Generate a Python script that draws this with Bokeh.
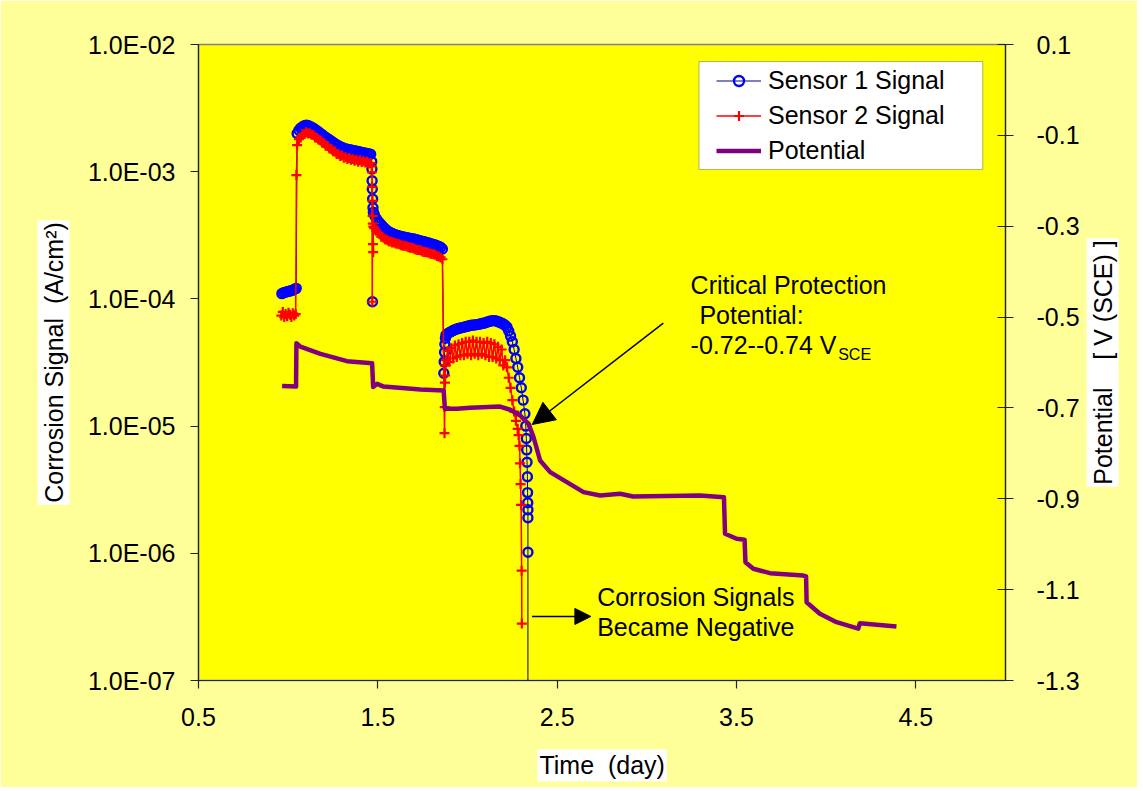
from math import pi
from bokeh.plotting import figure
from bokeh.models import (Range1d, LinearAxis, LinearScale, FixedTicker, CustomJSTickFormatter,
                          Label, Arrow, NormalHead, Legend, LegendItem, BoxAnnotation)
from bokeh.embed import file_html
from bokeh.resources import INLINE

# ---------------- data ----------------
x_ticks = [0.5, 1.5, 2.5, 3.5, 4.5]
signal_ticks = [1e-7, 1e-6, 1e-5, 1e-4, 1e-3, 1e-2]
potential_ticks = [0.1, -0.1, -0.3, -0.5, -0.7, -0.9, -1.1, -1.3]

# Sensor 1 (A/cm2)
s1_time_a = [0.965, 0.975, 0.985, 0.995, 1.005, 1.015, 1.025, 1.035, 1.045]
s1_sig_a = [1.10e-4, 1.12e-4, 1.13e-4, 1.14e-4, 1.15e-4, 1.16e-4, 1.17e-4, 1.19e-4, 1.21e-4]
s1_time_b = [1.05, 1.06, 1.07, 1.08, 1.09, 1.10, 1.11, 1.12, 1.13, 1.14, 1.15, 1.16, 1.17, 1.18,
             1.19, 1.20, 1.21, 1.22, 1.23, 1.24, 1.25, 1.26, 1.27, 1.28, 1.29, 1.30, 1.31, 1.32,
             1.33, 1.34, 1.35, 1.36, 1.37, 1.38, 1.39, 1.40, 1.41, 1.42, 1.43, 1.44, 1.45, 1.46]
s1_sig_b = [2.00e-3, 2.12e-3, 2.20e-3, 2.26e-3, 2.30e-3, 2.32e-3, 2.31e-3, 2.28e-3, 2.24e-3, 2.20e-3,
            2.15e-3, 2.10e-3, 2.05e-3, 2.00e-3, 1.95e-3, 1.90e-3, 1.86e-3, 1.82e-3, 1.78e-3, 1.74e-3,
            1.70e-3, 1.66e-3, 1.63e-3, 1.60e-3, 1.57e-3, 1.55e-3, 1.53e-3, 1.51e-3, 1.50e-3, 1.49e-3,
            1.48e-3, 1.47e-3, 1.46e-3, 1.45e-3, 1.44e-3, 1.43e-3, 1.42e-3, 1.41e-3, 1.40e-3, 1.39e-3,
            1.38e-3, 1.37e-3]
s1_time_drop1 = [1.466, 1.467, 1.468, 1.469, 1.470, 1.471, 1.473]
s1_sig_drop1 = [1.20e-3, 1.05e-3, 8.5e-4, 7.3e-4, 9.5e-5, 6.1e-4, 5.2e-4]
s1_time_c = [1.475, 1.48, 1.49, 1.50, 1.51, 1.52, 1.53, 1.54, 1.55, 1.56, 1.57, 1.58, 1.59, 1.60,
             1.61, 1.62, 1.63, 1.64, 1.65, 1.66, 1.67, 1.68, 1.69, 1.70, 1.71, 1.72, 1.73, 1.74,
             1.75, 1.76, 1.77, 1.78, 1.79, 1.80, 1.81, 1.82, 1.83, 1.84, 1.85, 1.86]
s1_sig_c = [4.8e-4, 4.6e-4, 4.3e-4, 4.1e-4, 3.95e-4, 3.8e-4, 3.68e-4, 3.56e-4, 3.46e-4, 3.38e-4,
            3.32e-4, 3.27e-4, 3.22e-4, 3.18e-4, 3.15e-4, 3.12e-4, 3.10e-4, 3.07e-4, 3.05e-4, 3.03e-4,
            3.01e-4, 2.99e-4, 2.98e-4, 2.96e-4, 2.93e-4, 2.91e-4, 2.88e-4, 2.86e-4, 2.83e-4, 2.81e-4,
            2.78e-4, 2.76e-4, 2.73e-4, 2.71e-4, 2.68e-4, 2.65e-4, 2.62e-4, 2.59e-4, 2.55e-4, 2.47e-4]
s1_time_d = [1.868, 1.870, 1.872, 1.874, 1.877,
             1.88, 1.89, 1.90, 1.91, 1.92, 1.93, 1.94, 1.95, 1.96, 1.97, 1.98, 1.99, 2.00, 2.01,
             2.02, 2.03, 2.04, 2.05, 2.06, 2.07, 2.08, 2.09, 2.10, 2.11, 2.12, 2.13, 2.14, 2.15,
             2.16, 2.17, 2.18, 2.19, 2.20,
             2.21, 2.22, 2.23, 2.24, 2.25, 2.26, 2.27, 2.28, 2.29, 2.30, 2.31, 2.32,
             2.325, 2.328, 2.33, 2.332, 2.334, 2.335, 2.336, 2.337, 2.337, 2.337]
s1_sig_d = [2.6e-5, 3.2e-5, 3.8e-5, 4.4e-5, 4.9e-5,
            5.2e-5, 5.35e-5, 5.45e-5, 5.55e-5, 5.65e-5, 5.72e-5, 5.8e-5, 5.85e-5, 5.9e-5, 5.95e-5,
            6.0e-5, 6.05e-5, 6.1e-5, 6.15e-5, 6.2e-5, 6.22e-5, 6.25e-5, 6.28e-5, 6.3e-5, 6.35e-5,
            6.4e-5, 6.45e-5, 6.5e-5, 6.58e-5, 6.65e-5, 6.7e-5, 6.75e-5, 6.75e-5, 6.7e-5, 6.62e-5,
            6.55e-5, 6.45e-5, 6.35e-5,
            6.2e-5, 6.0e-5, 5.6e-5, 5.1e-5, 4.6e-5, 4.0e-5, 3.4e-5, 2.9e-5, 2.4e-5, 2.0e-5,
            1.6e-5, 1.25e-5,
            1.0e-5, 8.0e-6, 6.5e-6, 5.2e-6, 4.0e-6, 3.0e-6, 2.5e-6, 2.2e-6, 1.9e-6, 1.02e-6]

# Sensor 2 (A/cm2)
s2_time_a = [0.962, 0.970, 0.978, 0.986, 0.994, 1.002, 1.010, 1.018, 1.026, 1.034, 1.042, 1.046]
s2_sig_a = [7.4e-5, 7.9e-5, 7.2e-5, 7.6e-5, 7.3e-5, 7.8e-5, 7.5e-5, 7.2e-5, 7.7e-5, 7.4e-5, 7.6e-5, 9.4e-4]
s2_time_b = s1_time_b
s2_sig_b = [1.62e-3, 1.80e-3, 1.86e-3, 1.97e-3, 1.98e-3, 2.04e-3, 2.00e-3, 2.01e-3, 1.95e-3, 1.94e-3,
            1.86e-3, 1.85e-3, 1.78e-3, 1.76e-3, 1.69e-3, 1.67e-3, 1.60e-3, 1.59e-3, 1.52e-3, 1.51e-3,
            1.45e-3, 1.44e-3, 1.38e-3, 1.38e-3, 1.33e-3, 1.34e-3, 1.29e-3, 1.30e-3, 1.26e-3, 1.28e-3,
            1.24e-3, 1.26e-3, 1.22e-3, 1.24e-3, 1.20e-3, 1.23e-3, 1.19e-3, 1.21e-3, 1.18e-3, 1.20e-3,
            1.16e-3, 1.17e-3]
s2_time_drop1 = [1.466, 1.467, 1.468, 1.469, 1.470, 1.471, 1.472, 1.473, 1.474]
s2_sig_drop1 = [1.10e-3, 9.9e-4, 7.6e-4, 9.5e-5, 5.9e-4, 4.5e-4, 3.9e-4, 2.7e-4, 2.33e-4]
s2_time_c = s1_time_c
s2_sig_c = [3.7e-4, 3.6e-4, 3.45e-4, 3.3e-4, 3.22e-4, 3.08e-4, 3.04e-4, 2.94e-4, 2.92e-4, 2.84e-4,
            2.83e-4, 2.77e-4, 2.77e-4, 2.72e-4, 2.71e-4, 2.69e-4, 2.64e-4, 2.62e-4, 2.62e-4, 2.59e-4,
            2.55e-4, 2.52e-4, 2.52e-4, 2.49e-4, 2.44e-4, 2.42e-4, 2.42e-4, 2.40e-4, 2.35e-4, 2.34e-4,
            2.33e-4, 2.32e-4, 2.27e-4, 2.25e-4, 2.24e-4, 2.22e-4, 2.17e-4, 2.15e-4, 2.12e-4, 2.05e-4]
s2_time_d = [1.872, 1.873, 1.874, 1.875, 1.877, 1.88, 1.89, 1.90, 1.91, 1.92, 1.93, 1.94, 1.95,
             1.96, 1.97, 1.98, 1.99, 2.00, 2.01, 2.02, 2.03, 2.04, 2.05, 2.06, 2.07, 2.08, 2.09,
             2.10, 2.11, 2.12, 2.13, 2.14, 2.15, 2.16, 2.17, 2.18, 2.19, 2.20, 2.21, 2.22, 2.23,
             2.24, 2.25, 2.26, 2.27, 2.28, 2.285, 2.29, 2.293, 2.296, 2.299, 2.302, 2.303]
s2_sig_d = [8.8e-6, 1.41e-5, 2.2e-5, 2.5e-5, 3.0e-5, 3.3e-5, 3.9e-5, 3.2e-5, 4.1e-5, 3.4e-5,
            4.3e-5, 3.5e-5, 4.4e-5, 3.6e-5, 4.5e-5, 3.6e-5, 4.6e-5, 3.7e-5, 4.6e-5, 3.6e-5,
            4.7e-5, 3.7e-5, 4.6e-5, 3.6e-5, 4.6e-5, 3.7e-5, 4.5e-5, 3.6e-5, 4.6e-5, 3.5e-5,
            4.5e-5, 3.5e-5, 4.4e-5, 3.4e-5, 4.2e-5, 3.3e-5, 4.0e-5, 3.0e-5, 3.3e-5, 2.9e-5,
            2.4e-5, 2.0e-5, 1.6e-5, 1.3e-5, 1.1e-5, 9.5e-6, 8.5e-6, 7.0e-6, 5.1e-6, 3.5e-6,
            2.4e-6, 7.3e-7, 2.8e-7]

# Potential (V vs SCE)
pot_time = [0.966, 1.044, 1.046, 1.068, 1.18, 1.328, 1.468, 1.474, 1.496, 1.532, 1.737, 1.867,
            1.874, 1.941, 2.015, 2.182, 2.238, 2.294, 2.34, 2.368, 2.405, 2.461, 2.554, 2.647,
            2.74, 2.851, 2.923, 3.296, 3.430, 3.436, 3.501, 3.545, 3.550, 3.594, 3.687, 3.872,
            3.888, 3.891, 3.965, 4.058, 4.179, 4.188, 4.392]
pot_value = [-0.652, -0.653, -0.5575, -0.565, -0.581, -0.597, -0.6015, -0.654, -0.647, -0.653,
             -0.6594, -0.6616, -0.702, -0.702, -0.6998, -0.697, -0.704, -0.7166, -0.735, -0.764,
             -0.8157, -0.8413, -0.8633, -0.8853, -0.8927, -0.889, -0.895, -0.893, -0.8965, -0.977,
             -0.988, -0.990, -1.0396, -1.054, -1.0637, -1.069, -1.071, -1.1276, -1.153, -1.1716,
             -1.186, -1.174, -1.181]

s1_time = s1_time_a + s1_time_b + s1_time_drop1 + s1_time_c + s1_time_d
s1_sig = s1_sig_a + s1_sig_b + s1_sig_drop1 + s1_sig_c + s1_sig_d
s2_time = s2_time_a + s2_time_b + s2_time_drop1 + s2_time_c + s2_time_d
s2_sig = s2_sig_a + s2_sig_b + s2_sig_drop1 + s2_sig_c + s2_sig_d

FONT = "Liberation Sans"
FS = "25px"

p = figure(frame_width=807, frame_height=636,
           min_border_left=198, min_border_right=132, min_border_top=44, min_border_bottom=107,
           x_range=Range1d(0.5, 5.0), y_range=Range1d(1e-7, 1e-2), y_axis_type="log",
           output_backend="svg", toolbar_location=None,
           background_fill_color="#FFFF00", border_fill_color="#FFFF99")
p.extra_y_ranges = {"pot": Range1d(-1.3, 0.1)}
p.extra_y_scales = {"pot": LinearScale()}
p.xgrid.visible = False
p.ygrid.visible = False
p.outline_line_color = "#808080"
p.outline_line_width = 1.5

# axes
p.xaxis.ticker = FixedTicker(ticks=x_ticks, minor_ticks=[])
p.xaxis.formatter = CustomJSTickFormatter(code="return tick.toFixed(1);")
p.yaxis.ticker = FixedTicker(ticks=signal_ticks, minor_ticks=[])
p.yaxis.formatter = CustomJSTickFormatter(code="""
const e = Math.round(Math.log10(tick));
const a = Math.abs(e);
return "1.0E" + (e < 0 ? "-" : "+") + (a < 10 ? "0" + a : "" + a);
""")
right_axis = LinearAxis(y_range_name="pot",
                        ticker=FixedTicker(ticks=potential_ticks, minor_ticks=[]),
                        formatter=CustomJSTickFormatter(code="return tick.toFixed(1);"))
p.add_layout(right_axis, "right")

for ax, standoff, tin in ((p.xaxis[0], 19, 0), (p.yaxis[0], 15, 0), (right_axis, 23, 8)):
    ax.major_label_text_font = FONT
    ax.major_label_text_font_size = FS
    ax.major_label_text_color = "black"
    ax.axis_line_color = "#222222"
    ax.axis_line_width = 1.2
    ax.major_tick_line_color = "#222222"
    ax.major_tick_line_width = 1.2
    ax.minor_tick_line_color = None
    ax.major_tick_out = 8
    ax.major_tick_in = tin
    ax.major_label_standoff = standoff


# axis titles in white boxes, placed in the side panels
def title(x, y, text, angle, place):
    lab = Label(x=x, y=y, y_range_name="pot", text=text, angle=angle, text_align="center",
                text_baseline="middle", text_font=FONT, text_font_size=FS, text_color="black",
                background_fill_color="white", padding=2)
    p.add_layout(lab, place)


title(-0.308, -0.6, "Corrosion Signal \u00a0(A/cm²)", pi / 2, "left")
title(5.542, -0.6, "Potential \u00a0 \u00a0[ V (SCE) ]", pi / 2, "right")
title(2.751, -1.487, "Time \u00a0(day)", 0.0, "below")

# series
l1 = p.line(s1_time, s1_sig, line_color="#000080", line_width=1)
m1 = p.scatter(s1_time, s1_sig, marker="circle", size=9, fill_color=None,
               line_color="#0000FF", line_width=2.4)
l2 = p.line(s2_time, s2_sig, line_color="#FF0000", line_width=1.5)
m2 = p.scatter(s2_time, s2_sig, marker="cross", size=10, line_color="#FF0000", line_width=2.2)
# sensor 1 signal turning negative: line from last positive reading down to the axis floor
p.segment(x0=[s1_time[-1]], y0=[s1_sig[-1]], x1=[s1_time[-1]], y1=[signal_ticks[0]],
          line_color="#000080", line_width=1)
lp = p.line(pot_time, pot_value, y_range_name="pot", line_color="#800080", line_width=4.5,
            line_join="round")

# legend inside a white box
box = BoxAnnotation(left=3.291, right=4.873, top=0.0626, bottom=-0.175, y_range_name="pot",
                    fill_color="white", fill_alpha=1.0, line_color="black", line_width=1)
p.add_layout(box)
legend = Legend(items=[LegendItem(label="Sensor 1 Signal", renderers=[l1, m1]),
                       LegendItem(label="Sensor 2 Signal", renderers=[l2, m2]),
                       LegendItem(label="Potential", renderers=[lp])],
                location=(518, 515), orientation="vertical", padding=4, spacing=5, margin=0,
                glyph_width=45, glyph_height=25, label_height=30, label_standoff=7,
                label_text_font=FONT, label_text_font_size=FS, label_text_color="black",
                border_line_color=None, background_fill_alpha=0)
p.add_layout(legend)


def label(x, y, text, size=FS):
    lab = Label(x=x, y=y, text=text, y_range_name="pot", text_align="left",
                text_baseline="middle", text_font=FONT, text_font_size=size, text_color="black")
    p.add_layout(lab)
    return lab


# annotations
label(3.244, -0.4305, "Critical Protection")
label(3.293, -0.4965, "Potential:")
label(3.244, -0.5625, "-0.72--0.74 V")
label(4.067, -0.5817, "SCE", size="16px")
label(2.723, -1.1166, "Corrosion Signals")
label(2.723, -1.1826, "Became Negative")

p.add_layout(Arrow(end=NormalHead(size=22, fill_color="black", line_color="black"),
                   x_start=3.092, y_start=-0.5135, x_end=2.361, y_end=-0.7365,
                   y_range_name="pot", line_color="black", line_width=1.5))
p.add_layout(Arrow(end=NormalHead(size=16, fill_color="black", line_color="black"),
                   x_start=2.36, y_start=-1.159, x_end=2.688, y_end=-1.159,
                   y_range_name="pot", line_color="black", line_width=1.5))

open("out.html", "w").write(file_html(p, INLINE))
